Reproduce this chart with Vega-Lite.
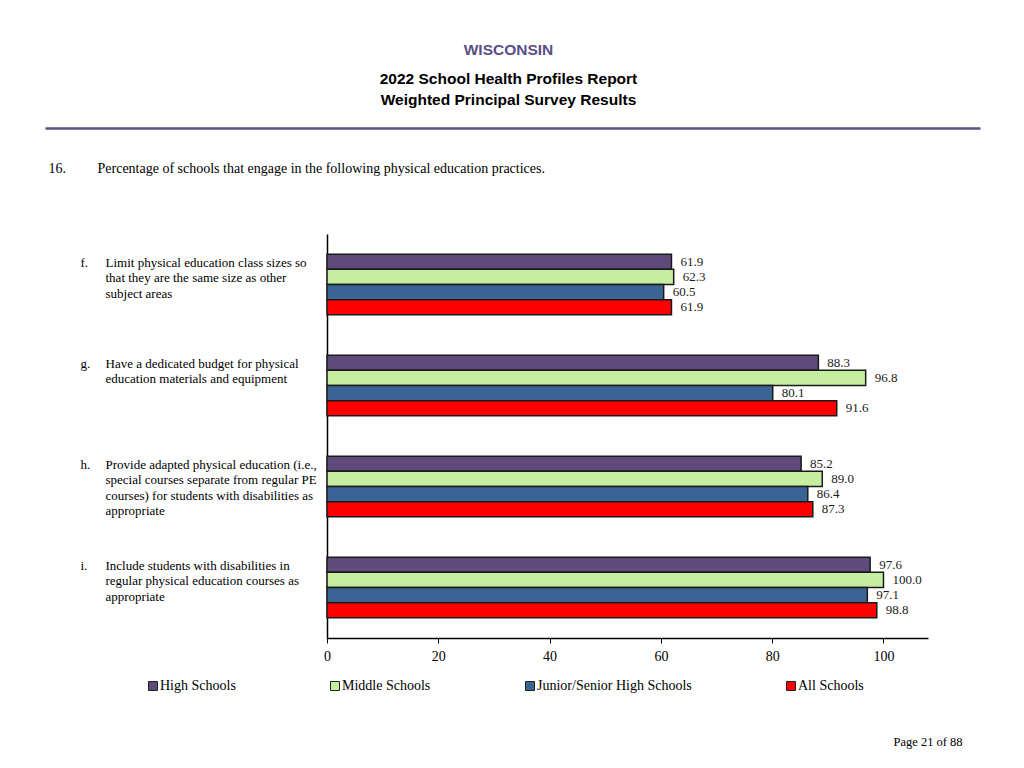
{
  "$schema": "https://vega.github.io/schema/vega-lite/v6.json",
  "background": "white",
  "padding": {"left": 48, "top": 43, "right": 10, "bottom": 10},
  "width": 601,
  "height": 404,
  "title": {
    "text": "WISCONSIN",
    "subtitle": ["2022 School Health Profiles Report", "Weighted Principal Survey Results"],
    "anchor": "middle",
    "frame": "group",
    "dx": -119,
    "font": "Liberation Sans",
    "fontSize": 15.5,
    "fontWeight": "bold",
    "color": "#5a4e86",
    "subtitleFont": "Liberation Sans",
    "subtitleFontSize": 15.5,
    "subtitleFontWeight": "bold",
    "subtitleColor": "#000",
    "subtitleLineHeight": 21,
    "subtitlePadding": 13,
    "offset": 20
  },
  "datasets": {
    "main": [
      {"q": "f.|Limit physical education class sizes so|that they are the same size as other|subject areas", "school": "High Schools", "value": 61.9},
      {"q": "f.|Limit physical education class sizes so|that they are the same size as other|subject areas", "school": "Middle Schools", "value": 62.3},
      {"q": "f.|Limit physical education class sizes so|that they are the same size as other|subject areas", "school": "Junior/Senior High Schools", "value": 60.5},
      {"q": "f.|Limit physical education class sizes so|that they are the same size as other|subject areas", "school": "All Schools", "value": 61.9},
      {"q": "g.|Have a dedicated budget for physical|education materials and equipment", "school": "High Schools", "value": 88.3},
      {"q": "g.|Have a dedicated budget for physical|education materials and equipment", "school": "Middle Schools", "value": 96.8},
      {"q": "g.|Have a dedicated budget for physical|education materials and equipment", "school": "Junior/Senior High Schools", "value": 80.1},
      {"q": "g.|Have a dedicated budget for physical|education materials and equipment", "school": "All Schools", "value": 91.6},
      {"q": "h.|Provide adapted physical education (i.e.,|special courses separate from regular PE|courses) for students with disabilities as|appropriate", "school": "High Schools", "value": 85.2},
      {"q": "h.|Provide adapted physical education (i.e.,|special courses separate from regular PE|courses) for students with disabilities as|appropriate", "school": "Middle Schools", "value": 89.0},
      {"q": "h.|Provide adapted physical education (i.e.,|special courses separate from regular PE|courses) for students with disabilities as|appropriate", "school": "Junior/Senior High Schools", "value": 86.4},
      {"q": "h.|Provide adapted physical education (i.e.,|special courses separate from regular PE|courses) for students with disabilities as|appropriate", "school": "All Schools", "value": 87.3},
      {"q": "i.|Include students with disabilities in|regular physical education courses as|appropriate", "school": "High Schools", "value": 97.6},
      {"q": "i.|Include students with disabilities in|regular physical education courses as|appropriate", "school": "Middle Schools", "value": 100.0},
      {"q": "i.|Include students with disabilities in|regular physical education courses as|appropriate", "school": "Junior/Senior High Schools", "value": 97.1},
      {"q": "i.|Include students with disabilities in|regular physical education courses as|appropriate", "school": "All Schools", "value": 98.8}
    ]
  },
  "layer": [
    {
      "data": {"name": "main"},
      "mark": {"type": "bar", "stroke": "#1a1a1a", "strokeWidth": 1.5},
      "encoding": {
        "y": {
          "field": "q", "type": "nominal",
          "scale": {"paddingInner": 0.4, "paddingOuter": 0.2},
          "axis": {
            "title": null, "ticks": false, "tickSize": 0, "grid": false,
            "domainColor": "#000", "domainWidth": 1.5,
            "labelAlign": "left", "labelBaseline": "top",
            "labelPadding": 222, "labelOffset": -28,
            "labelExpr": "slice(split(datum.value, '|'), 1)",
            "labelFont": "Liberation Serif", "labelFontSize": 13,
            "labelLineHeight": 15.5, "labelLimit": 400, "labelColor": "#000"
          }
        },
        "yOffset": {
          "field": "school", "type": "nominal",
          "sort": ["High Schools", "Middle Schools", "Junior/Senior High Schools", "All Schools"],
          "scale": {"paddingInner": 0, "paddingOuter": 0}
        },
        "x": {
          "field": "value", "type": "quantitative",
          "scale": {"domain": [0, 108], "nice": false},
          "axis": {
            "orient": "bottom",
            "values": [0, 20, 40, 60, 80, 100], "grid": false,
            "domainColor": "#000", "domainWidth": 1.5, "tickColor": "#000", "tickSize": 5,
            "labelFont": "Liberation Serif", "labelFontSize": 14, "labelColor": "#000",
            "labelPadding": 6, "labelFlush": false,
            "title": "Page 21 of 88", "titleX": 566, "titleY": 103,
            "titleAlign": "left", "titleBaseline": "middle",
            "titleFont": "Liberation Serif", "titleFontSize": 12.5, "titleFontWeight": "normal", "titleColor": "#000"
          }
        },
        "color": {
          "field": "school", "type": "nominal",
          "scale": {
            "domain": ["High Schools", "Middle Schools", "Junior/Senior High Schools", "All Schools"],
            "range": ["#5f4b7b", "#c6eea0", "#3a6494", "#ff0000"]
          },
          "legend": {
            "orient": "none", "legendX": -181, "legendY": 445,
            "direction": "horizontal", "columns": 4, "columnPadding": 92,
            "title": null, "symbolType": "square", "symbolSize": 81,
            "symbolStrokeColor": "#222", "symbolStrokeWidth": 1, "symbolOpacity": 1,
            "labelFont": "Liberation Serif", "labelFontSize": 14, "labelColor": "#000",
            "labelOffset": 0
          }
        }
      }
    },
    {
      "data": {"name": "main"},
      "mark": {"type": "text", "align": "left", "baseline": "middle", "dx": 9, "font": "Liberation Serif", "fontSize": 13, "color": "#1a1a1a"},
      "encoding": {
        "y": {
          "field": "q", "type": "nominal",
          "scale": {"paddingInner": 0.4, "paddingOuter": 0.2},
          "axis": {
            "orient": "left", "title": null, "ticks": false, "tickSize": 0, "grid": false,
            "domain": false,
            "labelAlign": "left", "labelBaseline": "top",
            "labelPadding": 247, "labelOffset": -28,
            "labelExpr": "split(datum.value, '|')[0]",
            "labelFont": "Liberation Serif", "labelFontSize": 13,
            "labelLimit": 400, "labelColor": "#000"
          }
        },
        "yOffset": {
          "field": "school", "type": "nominal",
          "sort": ["High Schools", "Middle Schools", "Junior/Senior High Schools", "All Schools"],
          "scale": {"paddingInner": 0, "paddingOuter": 0}
        },
        "x": {"field": "value", "type": "quantitative", "scale": {"domain": [0, 108], "nice": false}, "axis": null},
        "text": {"field": "value", "type": "quantitative", "format": ".1f"}
      }
    },
    {
      "data": {"values": []},
      "mark": {"type": "rule", "opacity": 0},
      "encoding": {
        "x": {
          "field": "d", "type": "quantitative",
          "scale": {"domain": [0, 1], "range": [-282, 653], "nice": false, "zero": false},
          "axis": {
            "orient": "top", "offset": 106, "labels": false, "ticks": false, "grid": false,
            "domain": true, "domainColor": "#575083", "domainWidth": 2.5,
            "title": "16.\u00a0\u00a0\u00a0\u00a0\u00a0\u00a0\u00a0\u00a0\u00a0Percentage of schools that engage in the following physical education practices.",
            "titleX": -279, "titleY": 40, "titleAlign": "left", "titleBaseline": "middle",
            "titleFont": "Liberation Serif", "titleFontSize": 14, "titleFontWeight": "normal", "titleColor": "#000"
          }
        }
      }
    }
  ],
  "resolve": {"scale": {"x": "independent"}, "axis": {"x": "independent", "y": "independent"}},
  "config": {
    "view": {"stroke": null},
    "font": "Liberation Serif"
  }
}
